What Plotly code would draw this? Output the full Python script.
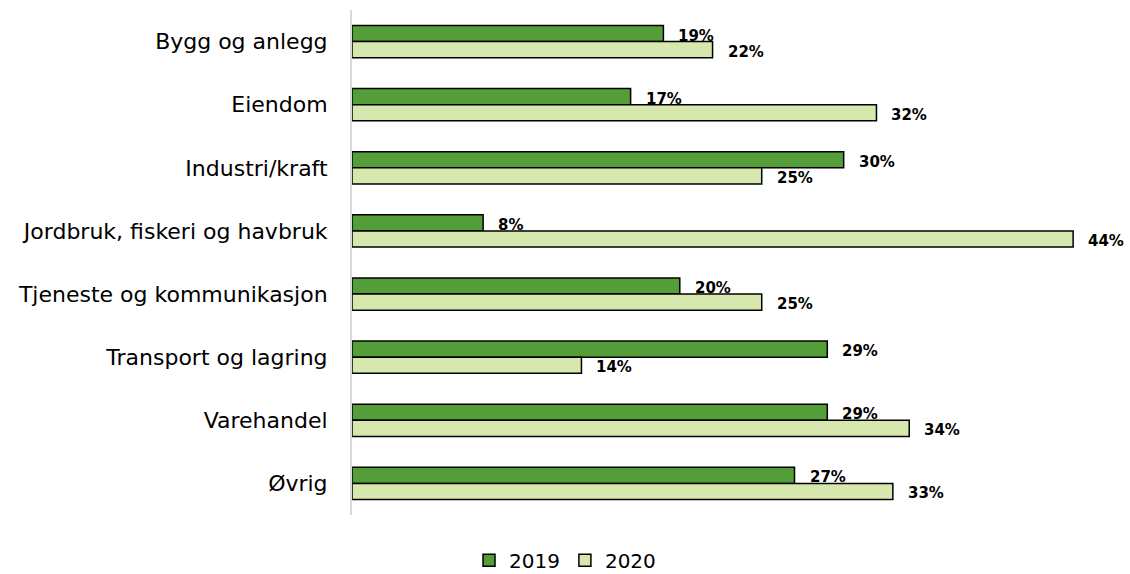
import plotly.graph_objects as go

categories = [
    "Bygg og anlegg",
    "Eiendom",
    "Industri/kraft",
    "Jordbruk, fiskeri og havbruk",
    "Tjeneste og kommunikasjon",
    "Transport og lagring",
    "Varehandel",
    "Øvrig",
]
values_2019 = [19, 17, 30, 8, 20, 29, 29, 27]
values_2020 = [22, 32, 25, 44, 25, 14, 34, 33]

DARK_GREEN = "#549E3A"
LIGHT_GREEN = "#D6E8AE"
FONT = "DejaVu Sans"

fig = go.Figure()
fig.add_trace(go.Bar(
    name="2019", y=categories, x=values_2019, orientation="h",
    marker=dict(color=DARK_GREEN, line=dict(color="#000000", width=1.5)),
))
fig.add_trace(go.Bar(
    name="2020", y=categories, x=values_2020, orientation="h",
    marker=dict(color=LIGHT_GREEN, line=dict(color="#000000", width=1.5)),
))

# value labels just past the end of each bar
for series, shift in ((values_2019, 6), (values_2020, -10)):
    for cat, v in zip(categories, series):
        fig.add_annotation(
            x=v, y=cat, text=f"<b>{v}%</b>", showarrow=False,
            xanchor="left", xshift=13, yshift=shift,
            font=dict(family=FONT, size=15, color="#000000"),
        )

fig.update_layout(
    width=1130, height=574,
    margin=dict(l=352, r=10, t=10, b=59),
    barmode="group", bargap=0.49, bargroupgap=0,
    plot_bgcolor="white", paper_bgcolor="white",
    font=dict(family=FONT, color="#000000"),
    showlegend=True,
    legend=dict(
        orientation="h", xref="container", yref="container",
        x=0.5, xanchor="center", y=0.024, yanchor="middle",
        font=dict(family=FONT, size=20, color="#000000"),
        itemwidth=30, traceorder="normal",
    ),
    xaxis=dict(range=[0, 46.86], visible=False, showgrid=False, zeroline=False),
    yaxis=dict(
        autorange="reversed", showline=True, linecolor="#D9D9D9", linewidth=2,
        ticks="", ticklabelstandoff=18, showgrid=False,
        tickfont=dict(family=FONT, size=22, color="#000000"),
    ),
)

fig.write_html("out.html")
